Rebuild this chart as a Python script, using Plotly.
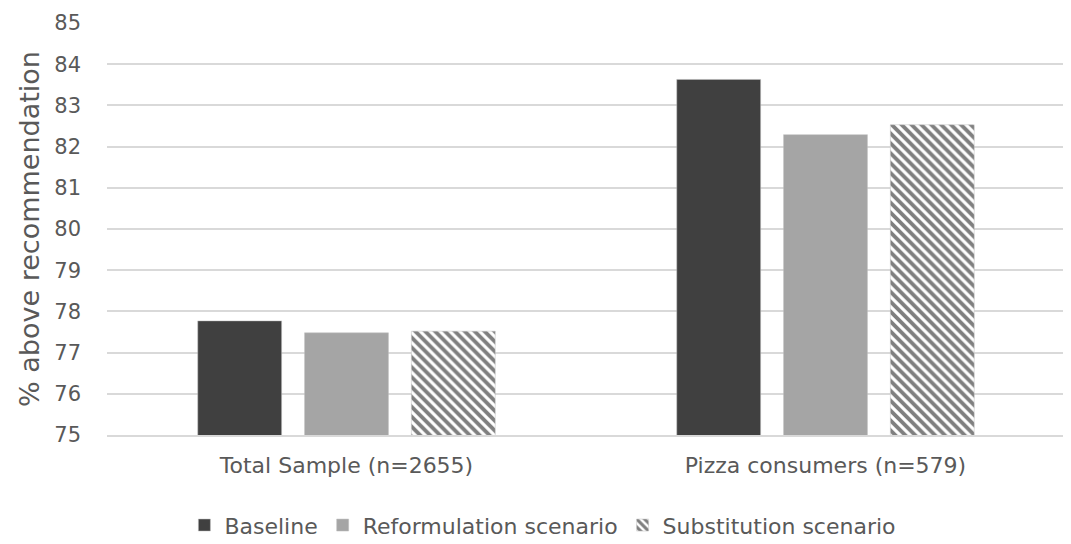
import plotly.graph_objects as go

categories = ["Total Sample (n=2655)", "Pizza consumers (n=579)"]
baseline = [77.77, 83.63]
reformulation = [77.48, 82.29]
substitution = [77.52, 82.53]

FONT = "DejaVu Sans"
TXT = "#595959"

fig = go.Figure()
fig.add_trace(go.Bar(name="Baseline", x=categories, y=baseline,
                     marker=dict(color="#404040", line=dict(color="#bfbfbf", width=0.5))))
fig.add_trace(go.Bar(name="Reformulation scenario", x=categories, y=reformulation,
                     marker=dict(color="#A5A5A5", line=dict(color="#bfbfbf", width=0.5))))
fig.add_trace(go.Bar(name="Substitution scenario", x=categories, y=substitution,
                     marker=dict(color="white", line=dict(color="#bfbfbf", width=0.5),
                                 pattern=dict(shape="\\", fgcolor="black", bgcolor="white",
                                              size=7, solidity=0.55))))

fig.update_layout(
    width=1063, height=536,
    paper_bgcolor="white", plot_bgcolor="white",
    margin=dict(l=99, r=6, t=15, b=109, autoexpand=False),
    barmode="group", bargap=0.331, bargroupgap=0.215,
    font=dict(family=FONT, color=TXT, size=21),
    legend=dict(orientation="h", x=0.455, xanchor="center", yref="container", y=0.035,
                yanchor="middle", font=dict(size=22, color=TXT, family=FONT),
                itemwidth=30, traceorder="normal"),
    showlegend=True,
)
fig.update_yaxes(range=[75, 85], dtick=1, showgrid=True, gridcolor="#D9D9D9", gridwidth=1.5,
                 zeroline=False, showline=False, tickfont=dict(size=21, color=TXT),
                 ticks="", ticklabelstandoff=25,
                 title=dict(text="% above recommendation", font=dict(size=27, color=TXT), standoff=6))
fig.update_xaxes(showline=True, linecolor="#D9D9D9", linewidth=1.5, ticks="",
                 tickfont=dict(size=22, color=TXT), ticklabelstandoff=10)

fig.write_html("out.html")
